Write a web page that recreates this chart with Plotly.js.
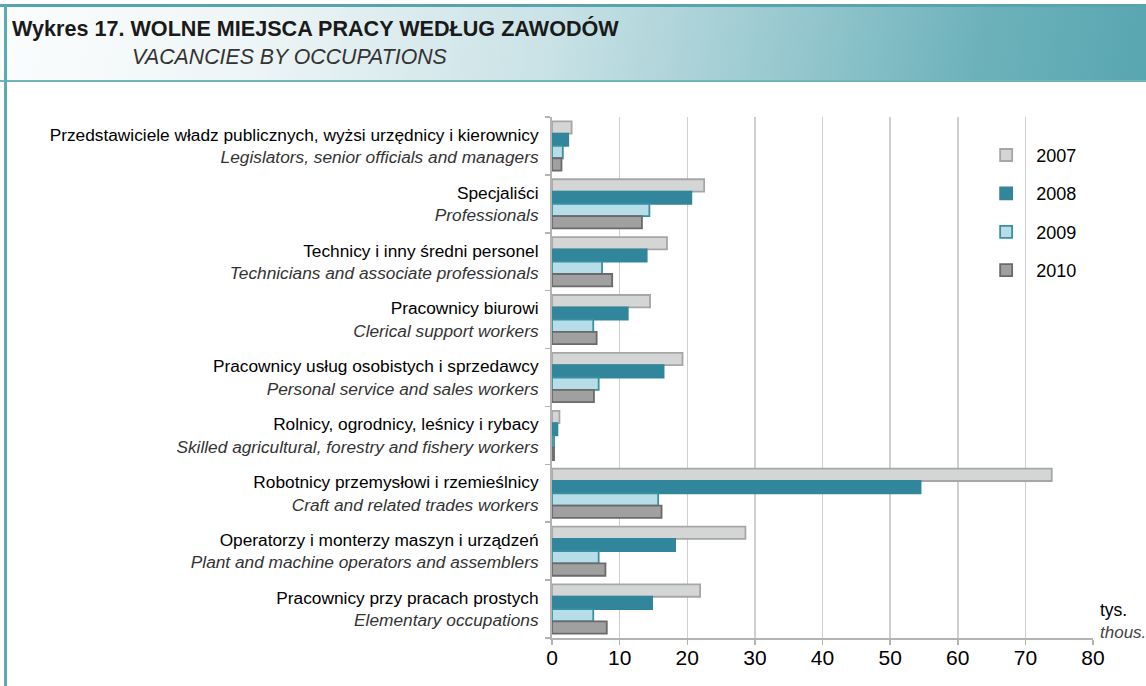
<!DOCTYPE html>
<html>
<head>
<meta charset="utf-8">
<script src="https://cdn.plot.ly/plotly-3.0.1.min.js"></script>
<style>
html,body{margin:0;padding:0;background:#fff;}
#wrap{position:relative;width:1146px;height:686px;overflow:hidden;background:#fff;}
#hdr{position:absolute;left:0;top:4px;width:1146px;height:77px;
 background:linear-gradient(100deg,#fbfdfd 0%,#eef5f6 22%,#c9e2e6 48%,#94c6cd 70%,#6db2bb 85%,#58a6b0 100%);}
#topline{position:absolute;left:0;top:4px;width:1146px;height:3px;background:#58a4ae;}
#sepline{position:absolute;left:0;top:80px;width:1146px;height:2px;background:#6fb3bc;}
#leftline{position:absolute;left:4px;top:4px;width:3px;height:682px;background:#5eaab4;}
#chart{position:absolute;left:0;top:0;width:1146px;height:686px;}
</style>
</head>
<body>
<div id="wrap">
<div id="hdr"></div>
<div id="topline"></div>
<div id="sepline"></div>
<div id="leftline"></div>
<div id="chart"></div>
</div>
<script>
var categoriesPL = [
  "Przedstawiciele władz publicznych, wyżsi urzędnicy i kierownicy",
  "Specjaliści",
  "Technicy i inny średni personel",
  "Pracownicy biurowi",
  "Pracownicy usług osobistych i sprzedawcy",
  "Rolnicy, ogrodnicy, leśnicy i rybacy",
  "Robotnicy przemysłowi i rzemieślnicy",
  "Operatorzy i monterzy maszyn i urządzeń",
  "Pracownicy przy pracach prostych"
];
var categoriesEN = [
  "Legislators, senior officials and managers",
  "Professionals",
  "Technicians and associate professionals",
  "Clerical support workers",
  "Personal service and sales workers",
  "Skilled agricultural, forestry and fishery workers",
  "Craft and related trades workers",
  "Plant and machine operators and assemblers",
  "Elementary occupations"
];
var years = ["2007", "2008", "2009", "2010"];
var v2007 = [2.9, 22.5, 17.0, 14.5, 19.3, 1.1, 73.9, 28.6, 21.9];
var v2008 = [2.4, 20.6, 14.0, 11.2, 16.5, 0.8, 54.5, 18.2, 14.8];
var v2009 = [1.6, 14.4, 7.4, 6.1, 6.9, 0.3, 15.7, 6.9, 6.1];
var v2010 = [1.4, 13.3, 8.9, 6.6, 6.2, 0.3, 16.2, 7.9, 8.1];
var xTicks = [0, 10, 20, 30, 40, 50, 60, 70, 80];

var seriesVals = [v2007, v2008, v2009, v2010];
var fills = ["#d4d6d6", "#31869b", "#b7dee8", "#a0a0a0"];
var lines = ["#a6a6a6", "#31869b", "#3b8fa1", "#6a6a6a"];

var cats = categoriesPL.map(function(p, i){ return "c" + i; });
var tickText = categoriesPL.map(function(p, i){
  return p + "<br><i><span style='color:#333'>" + categoriesEN[i] + "</span></i>";
});

var traces = years.map(function(y, k){
  return {
    type: "bar", orientation: "h", name: y,
    x: seriesVals[k], y: cats,
    legendgroup: "g" + k,
    marker: {color: fills[k], line: {color: lines[k], width: 1.8}},
    hoverinfo: "x+name"
  };
});

var FONT = "'Liberation Sans',Arial,sans-serif";

var layout = {
  width: 1146, height: 686,
  paper_bgcolor: "rgba(0,0,0,0)", plot_bgcolor: "rgba(0,0,0,0)",
  margin: {l: 552, r: 53, t: 117, b: 48},
  barmode: "group", bargap: 0.15, bargroupgap: 0,
  font: {family: FONT, size: 17.3, color: "#000"},
  showlegend: true,
  legend: {
    x: 0.784, y: 0.962, xanchor: "left", yanchor: "top",
    bgcolor: "rgba(0,0,0,0)", traceorder: "grouped",
    tracegroupgap: 12, itemwidth: 50,
    font: {family: FONT, size: 18, color: "#000"}
  },
  xaxis: {
    range: [0, 80], tickvals: xTicks, ticktext: xTicks.map(String),
    showgrid: true, gridcolor: "#cfcfcf", gridwidth: 1.5,
    showline: true, linecolor: "#b3b3b3", linewidth: 2,
    ticks: "outside", ticklen: 5, tickcolor: "#b3b3b3", tickwidth: 1.5,
    ticklabelstandoff: -5,
    tickfont: {family: FONT, size: 21, color: "#000"},
    zeroline: false, fixedrange: true
  },
  yaxis: {
    type: "category", categoryorder: "array", categoryarray: cats,
    autorange: "reversed",
    tickvals: cats, ticktext: tickText,
    tickson: "boundaries",
    showgrid: false, showline: true, linecolor: "#b3b3b3", linewidth: 2,
    ticks: "outside", ticklen: 5, tickcolor: "#b3b3b3", tickwidth: 1.5,
    ticklabelstandoff: 8,
    tickfont: {family: FONT, size: 17.3, color: "#000"},
    zeroline: false, fixedrange: true
  },
  annotations: [
    {text: "<b>Wykres 17. WOLNE MIEJSCA PRACY WEDŁUG ZAWODÓW</b>", xref: "paper", yref: "paper",
     x: -552/541 + 10/541, y: 1 + (117-29)/521, xanchor: "left", yanchor: "middle", showarrow: false,
     font: {family: FONT, size: 21.6, color: "#1a1a1a"}},
    {text: "<i>VACANCIES BY OCCUPATIONS</i>", xref: "paper", yref: "paper",
     x: -552/541 + 130/541, y: 1 + (117-57)/521, xanchor: "left", yanchor: "middle", showarrow: false,
     font: {family: FONT, size: 21.3, color: "#333"}},
    {text: "tys.", xref: "paper", yref: "paper",
     x: 1 + 5/541, y: (638-610)/521, xanchor: "left", yanchor: "middle", showarrow: false,
     font: {family: FONT, size: 17.5, color: "#000"}},
    {text: "<i>thous.</i>", xref: "paper", yref: "paper",
     x: 1 + 5/541, y: (638-632)/521, xanchor: "left", yanchor: "middle", showarrow: false,
     font: {family: FONT, size: 17, color: "#444"}}
  ]
};

Plotly.newPlot("chart", traces, layout, {displayModeBar: false, staticPlot: true});
</script>
</body>
</html>
